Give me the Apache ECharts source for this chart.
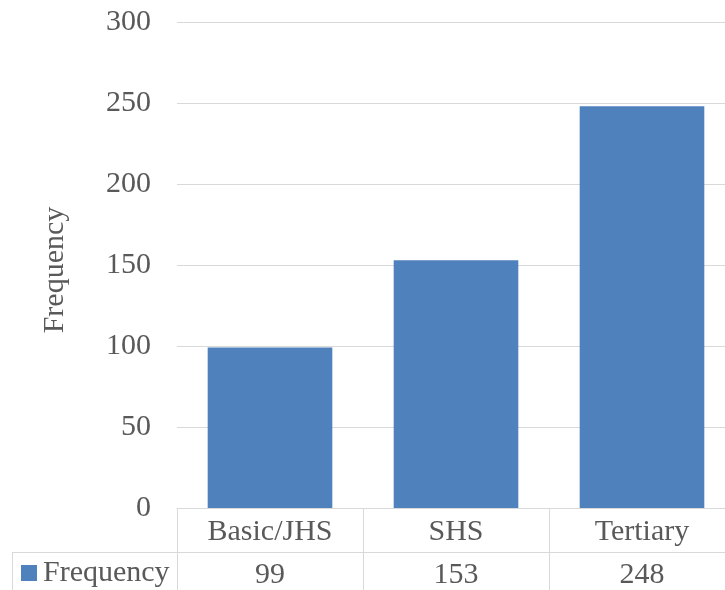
<!DOCTYPE html>
<html>
<head>
<meta charset="utf-8">
<script src="https://cdn.jsdelivr.net/npm/echarts@6/dist/echarts.min.js"></script>
<style>html,body{margin:0;padding:0;background:#fff;overflow:hidden;width:725px;height:590px;}#c{width:740px;height:590px;}</style>
</head>
<body>
<div id="c"></div>
<script>
const categories = ['Basic/JHS', 'SHS', 'Tertiary'];
const frequency = [99, 153, 248];
const seriesName = 'Frequency';
const yTicks = { min: 0, max: 300, interval: 50 };

const FONT = '"Liberation Serif", "Times New Roman", serif';
const TXT = '#595959';
const LINE = '#d9d9d9';
const FS = 30;

const chart = echarts.init(document.getElementById('c'));
chart.setOption({
  animation: false,
  textStyle: { fontFamily: FONT },
  legend: {
    data: [seriesName],
    left: 21, top: 558,
    icon: 'rect', itemWidth: 16, itemHeight: 16, itemGap: 4,
    padding: 0,
    textStyle: { fontFamily: FONT, fontSize: FS, color: TXT, padding: [0, 0, 0, 1] }
  },
  grid: { left: 177, top: 22, width: 558, height: 486, containLabel: false },
  xAxis: [{
    type: 'category',
    data: categories,
    axisLine: { show: true, lineStyle: { color: LINE, width: 1 } },
    axisTick: { show: true, inside: false, length: 82, lineStyle: { color: LINE, width: 1 } },
    axisLabel: { fontFamily: FONT, fontSize: FS, color: TXT, margin: 9 },
    splitLine: { show: false }
  }, {
    type: 'category',
    position: 'bottom',
    offset: 44,
    data: frequency.map(String),
    axisLine: { show: true, lineStyle: { color: LINE, width: 1 } },
    axisTick: { show: false },
    axisLabel: { fontFamily: FONT, fontSize: FS, color: TXT, margin: 8 }
  }],
  yAxis: {
    type: 'value',
    min: yTicks.min, max: yTicks.max, interval: yTicks.interval,
    name: seriesName,
    nameLocation: 'middle',
    nameRotate: 90,
    nameGap: 107,
    nameTextStyle: { fontFamily: FONT, fontSize: FS, color: TXT, padding: [0, 10, 0, 0] },
    axisLine: { show: false },
    axisTick: { show: false },
    axisLabel: { fontFamily: FONT, fontSize: FS, color: TXT, margin: 26 },
    splitLine: { lineStyle: { color: LINE, width: 1 } }
  },
  series: [{
    name: seriesName,
    type: 'bar',
    data: frequency,
    xAxisIndex: 0,
    barCategoryGap: '33%',
    itemStyle: { color: '#4f81bd' }
  }],
  graphic: [
    { type: 'line', shape: { x1: 12, y1: 552.5, x2: 177, y2: 552.5 }, style: { stroke: LINE, lineWidth: 1 }, silent: true },
    { type: 'line', shape: { x1: 12.5, y1: 552, x2: 12.5, y2: 590 }, style: { stroke: LINE, lineWidth: 1 }, silent: true }
  ]
});
</script>
</body>
</html>
